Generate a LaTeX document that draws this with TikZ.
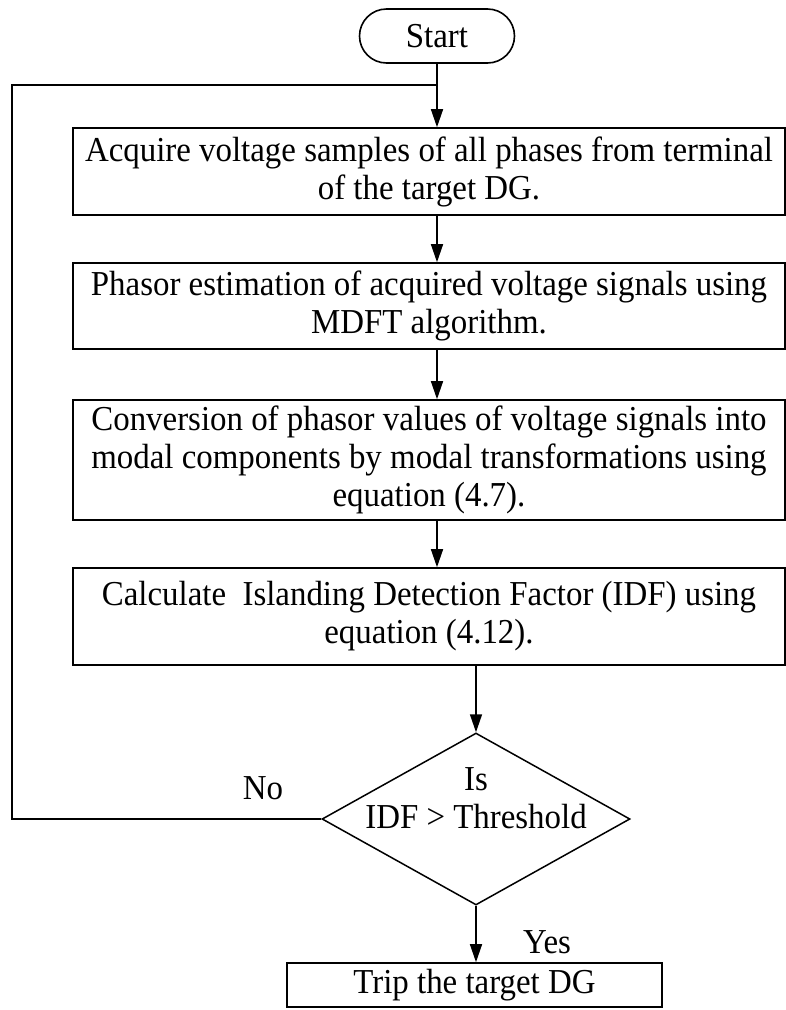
\documentclass[tikz,border=0pt]{standalone}
\usepackage{fontspec}
\setmainfont{Liberation Serif}[FakeStretch=0.94]
\usetikzlibrary{arrows.meta,shapes.geometric}
\begin{document}
\begin{tikzpicture}[x=1pt,y=-1pt,
  every node/.style={font=\fontsize{35}{38}\selectfont},
  procbox/.style={draw,line width=1.6pt,minimum width=712pt,inner sep=0pt,align=center},
  flow/.style={line width=1.5pt,-{Triangle[length=18pt,width=12pt]}},
  conn/.style={line width=1.5pt}]
\useasboundingbox (0,0) rectangle (786,1010);
\node[draw,line width=1.6pt,rounded corners=27pt,minimum width=155pt,minimum height=54pt,inner sep=0pt] (start) at (437,36) {Start};
\node[procbox,minimum height=87pt] (b1) at (429,171.5) {Acquire voltage samples of all phases from terminal\\of the target DG.};
\node[procbox,minimum height=86pt] (b2) at (429,306) {Phasor estimation of acquired voltage signals using\\MDFT algorithm.};
\node[procbox,minimum height=120pt] (b3) at (429,460) {Conversion of phasor values of voltage signals into\\modal components by modal transformations using\\equation (4.7).};
\node[procbox,minimum height=97pt] (b4) at (429,616.5) {Calculate\ \ Islanding Detection Factor (IDF) using\\equation (4.12).};
\node[draw,shape=diamond,line width=1.5pt,minimum width=308pt,minimum height=172pt,inner sep=0pt] (dec) at (476,819) {};
\node[align=center] (dectext) at (476,798) {Is\\IDF > Threshold};
\node[draw,line width=1.6pt,minimum width=375pt,minimum height=44pt,inner sep=0pt] (trip) at (474.5,985) {Trip the target DG};
\node (no) at (263,788) {No};
\node (yes) at (547,942) {Yes};
\coordinate (lp) at (12,85);
\draw[flow] (start.south) -- (start.south |- b1.north);
\draw[flow] (b1.south -| start.south) -- (b2.north -| start.south);
\draw[flow] (b2.south -| start.south) -- (b3.north -| start.south);
\draw[flow] (b3.south -| start.south) -- (b4.north -| start.south);
\draw[flow] (b4.south -| dec.north) -- (dec.north);
\draw[flow] (dec.south) -- (dec.south |- trip.north);
\draw[conn] (dec.west) -| (lp) -- (lp -| start.south);
\end{tikzpicture}
\end{document}
